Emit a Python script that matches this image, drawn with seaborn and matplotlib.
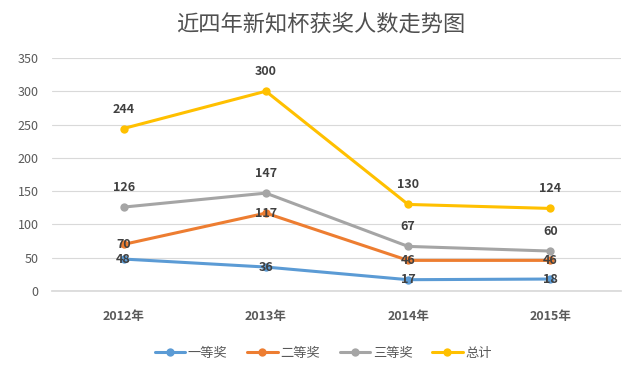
import matplotlib
matplotlib.use("Agg")
import pandas as pd
import matplotlib.pyplot as plt
import seaborn as sns

years = ["2012年", "2013年", "2014年", "2015年"]
series_names = ["一等奖", "二等奖", "三等奖", "总计"]
first_prize = [48, 36, 17, 18]
second_prize = [70, 117, 46, 46]
third_prize = [126, 147, 67, 60]
total = [244, 300, 130, 124]
colors = ["#5B9BD5", "#ED7D31", "#A5A5A5", "#FFC000"]

sns.set_theme(style="white")
plt.rcParams["font.family"] = ["Noto Sans CJK SC", "DejaVu Sans"]

df = pd.DataFrame(
    {
        "year": years * 4,
        "series": [s for s in series_names for _ in years],
        "value": first_prize + second_prize + third_prize + total,
    }
)

fig = plt.figure(figsize=(6.4, 3.76), dpi=100)
ax = fig.add_axes([0.082, 0.226, 0.889, 0.62])

sns.lineplot(
    data=df,
    x="year",
    y="value",
    hue="series",
    hue_order=series_names,
    palette=colors,
    marker="o",
    markersize=6,
    markeredgewidth=0,
    linewidth=2.2,
    sort=False,
    legend=False,
    ax=ax,
)

ax.set_xlim(-0.5, 3.5)
ax.set_ylim(0, 350)
ax.set_yticks(range(0, 351, 50))
ax.yaxis.grid(True, color="#D9D9D9", linewidth=0.8)
ax.set_axisbelow(True)
for side in ["top", "right", "left"]:
    ax.spines[side].set_visible(False)
ax.spines["bottom"].set_color("#D9D9D9")
ax.tick_params(axis="both", length=0, labelsize=9, colors="#595959", pad=10)
ax.tick_params(axis="x", pad=14)
for lbl in ax.get_xticklabels():
    lbl.set_fontweight("bold")
ax.set_xlabel("")
ax.set_ylabel("")

# data labels: centred on the point for the low series, above for the others
label_style = dict(ha="center", fontsize=9, fontweight="bold", color="#404040")
for vals, offset in [(first_prize, 0), (second_prize, 0), (third_prize, 14), (total, 14)]:
    for i, v in enumerate(vals):
        ax.annotate(str(v), (i, v), xytext=(0, offset), textcoords="offset points",
                    va="center", **label_style)

fig.text(0.501, 0.933, "近四年新知杯获奖人数走势图", ha="center", va="center",
         fontsize=16, color="#505050")

handles = [
    plt.Line2D([], [], color=c, marker="o", markersize=6, markeredgewidth=0, linewidth=2.2)
    for c in colors
]
fig.legend(handles, series_names, loc="center", bbox_to_anchor=(0.505, 0.06), ncol=4,
           frameon=False, fontsize=9.5, handlelength=2.3, columnspacing=1.5,
           handletextpad=0.2, labelcolor="#595959")

fig.savefig("out.png", dpi=100)
